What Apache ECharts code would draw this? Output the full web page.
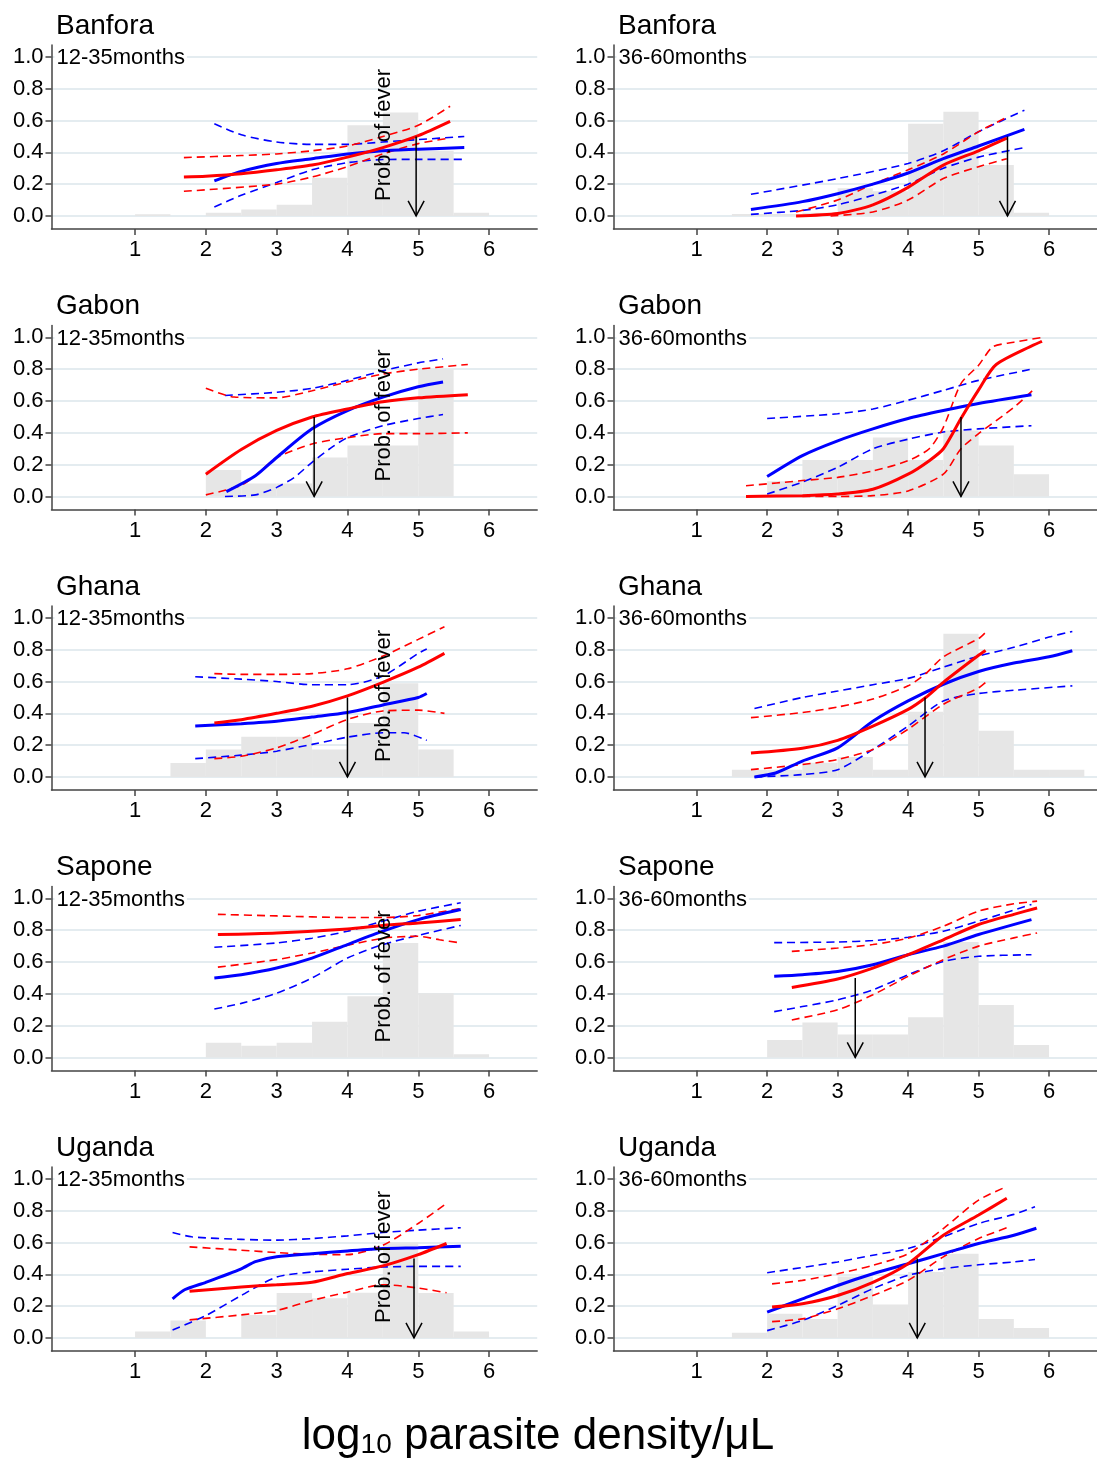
<!DOCTYPE html>
<html>
<head>
<meta charset="utf-8">
<script src="https://cdn.jsdelivr.net/npm/echarts@6/dist/echarts.min.js"></script>
<style>
html, body { margin: 0; background: #fff; }
#main { width: 1097px; height: 1459px; }
</style>
</head>
<body>
<div id="main"></div>
<script>
// panels, row by row: left = 12-35 months, right = 36-60 months
var sites = ['Banfora', 'Gabon', 'Ghana', 'Sapone', 'Uganda'];
var ageGroups = ['12-35months', '36-60months'];
var xTicks = [1, 2, 3, 4, 5, 6];
var yTicks = [0, 0.2, 0.4, 0.6, 0.8, 1.0];

// histogram bins are 0.5 log units wide, starting at these values
var binStarts = [1.0, 1.5, 2.0, 2.5, 3.0, 3.5, 4.0, 4.5, 5.0, 5.5, 6.0];
var histHeights = [
  [0.01, 0, 0.02, 0.04, 0.07, 0.24, 0.57, 0.65, 0.41, 0.02, 0],
  [0, 0.012, 0.012, 0.02, 0.175, 0.155, 0.58, 0.655, 0.32, 0.02, 0],
  [0, 0, 0.166, 0.082, 0.082, 0.245, 0.32, 0.32, 0.80, 0, 0],
  [0, 0, 0.095, 0.23, 0.23, 0.37, 0.23, 0.415, 0.32, 0.14, 0],
  [0, 0.088, 0.173, 0.253, 0.253, 0.173, 0.34, 0.59, 0.173, 0, 0],
  [0, 0.046, 0.046, 0.09, 0.125, 0.046, 0.41, 0.90, 0.29, 0.046, 0.046],
  [0, 0, 0.093, 0.074, 0.093, 0.225, 0.385, 0.72, 0.404, 0.02, 0],
  [0, 0, 0.11, 0.22, 0.145, 0.145, 0.253, 0.726, 0.33, 0.078, 0],
  [0.04, 0.11, 0, 0.145, 0.282, 0.25, 0.285, 0.60, 0.282, 0.04, 0],
  [0, 0.032, 0.152, 0.12, 0.387, 0.21, 0.415, 0.53, 0.12, 0.063, 0]
];

var redFit = [
  [[1.69,0.245],[2,0.25],[2.5,0.265],[3,0.29],[3.5,0.32],[4,0.37],[4.5,0.43],[5,0.505],[5.45,0.595]],
  [[2.41,0],[3,0.015],[3.5,0.07],[4,0.18],[4.5,0.32],[5,0.41],[5.4,0.49]],
  [[2,0.14],[2.5,0.295],[3,0.415],[3.5,0.5],[4,0.55],[4.5,0.595],[5,0.62],[5.7,0.64]],
  [[1.7,0],[2.5,0.005],[3,0.015],[3.5,0.045],[4,0.14],[4.3,0.225],[4.5,0.3],[4.75,0.49],[5,0.67],[5.25,0.83],[5.9,0.975]],
  [[2.12,0.34],[2.5,0.36],[3,0.4],[3.5,0.445],[4,0.51],[4.5,0.595],[5,0.69],[5.37,0.777]],
  [[1.77,0.15],[2.5,0.18],[3,0.23],[3.5,0.32],[4,0.425],[4.25,0.5],[4.5,0.595],[5,0.765],[5.1,0.795]],
  [[2.17,0.773],[3,0.783],[4,0.808],[4.5,0.83],[5,0.846],[5.6,0.867]],
  [[2.35,0.44],[3,0.493],[3.5,0.562],[4,0.646],[4.5,0.74],[5,0.836],[5.5,0.9],[5.83,0.94]],
  [[1.77,0.293],[2.5,0.32],[3,0.335],[3.5,0.35],[4,0.405],[4.5,0.453],[5,0.524],[5.4,0.594]],
  [[2.07,0.194],[2.5,0.215],[3,0.267],[3.5,0.35],[4,0.467],[4.5,0.646],[5,0.773],[5.4,0.878]]
];
var redHi = [
  [[1.69,0.367],[2.5,0.38],[3,0.39],[3.5,0.41],[4,0.44],[4.5,0.5],[5,0.57],[5.45,0.69]],
  [[2.41,0.025],[3,0.1],[3.5,0.2],[4,0.29],[4.5,0.39],[5,0.53],[5.4,0.62]],
  [[2,0.68],[2.4,0.625],[3,0.62],[3.5,0.665],[4,0.72],[4.5,0.77],[5,0.8],[5.7,0.83]],
  [[1.7,0.067],[2.5,0.1],[3,0.12],[3.5,0.16],[4,0.225],[4.3,0.3],[4.5,0.435],[4.75,0.71],[5,0.825],[5.2,0.94],[5.5,0.97],[5.9,1.0]],
  [[2.12,0.65],[2.5,0.645],[3,0.645],[3.5,0.65],[4,0.68],[4.5,0.76],[5,0.865],[5.37,0.945]],
  [[1.77,0.373],[2.5,0.405],[3,0.44],[3.5,0.49],[4,0.573],[4.25,0.65],[4.5,0.755],[5,0.87],[5.1,0.91]],
  [[2.17,0.9],[3,0.89],[4,0.88],[4.5,0.88],[5,0.893],[5.6,0.937]],
  [[2.35,0.667],[3,0.688],[3.5,0.71],[4,0.75],[4.5,0.825],[5,0.92],[5.5,0.966],[5.83,0.983]],
  [[1.77,0.573],[2.5,0.552],[3,0.537],[3.5,0.526],[4,0.524],[4.5,0.583],[5,0.72],[5.4,0.846]],
  [[2.07,0.34],[2.5,0.362],[3,0.404],[3.5,0.457],[4,0.53],[4.5,0.688],[5,0.867],[5.4,0.952]]
];
var redLo = [
  [[1.69,0.155],[3,0.2],[3.5,0.245],[4,0.31],[4.5,0.39],[5,0.455],[5.45,0.49]],
  [[2.9,0],[3.5,0.025],[4,0.1],[4.5,0.235],[5,0.31],[5.4,0.36]],
  [[2,0.01],[2.5,0.07],[2.75,0.15],[3,0.245],[3.5,0.33],[4,0.37],[4.5,0.395],[5,0.395],[5.7,0.4]],
  [[2.5,0],[3,0],[3.5,0.005],[4,0.035],[4.5,0.14],[4.75,0.3],[5,0.395],[5.5,0.56],[5.8,0.68]],
  [[2.12,0.115],[2.5,0.13],[3,0.183],[3.5,0.267],[4,0.362],[4.5,0.415],[5,0.42],[5.37,0.4]],
  [[1.77,0.046],[2.5,0.078],[3,0.11],[3.5,0.173],[4,0.3],[4.5,0.457],[5,0.56],[5.1,0.594]],
  [[2.17,0.568],[3,0.615],[3.5,0.657],[4,0.705],[4.5,0.75],[5,0.762],[5.3,0.74],[5.6,0.72]],
  [[2.35,0.236],[3,0.3],[3.5,0.394],[4,0.51],[4.5,0.615],[5,0.7],[5.5,0.752],[5.83,0.783]],
  [[1.77,0.114],[2.5,0.145],[3,0.173],[3.5,0.236],[4,0.288],[4.5,0.335],[5,0.314],[5.4,0.284]],
  [[2.07,0.103],[2.5,0.12],[3,0.183],[3.5,0.267],[4,0.362],[4.5,0.51],[5,0.625],[5.4,0.693]]
];

var blueFit = [
  [[2.12,0.22],[2.5,0.28],[3,0.33],[3.5,0.36],[4,0.39],[4.5,0.41],[5,0.42],[5.65,0.43]],
  [[1.77,0.04],[2.5,0.09],[3,0.14],[3.5,0.2],[4,0.27],[4.5,0.36],[5,0.44],[5.65,0.545]],
  [[2.29,0.03],[2.7,0.13],[3,0.245],[3.5,0.425],[4,0.54],[4.5,0.625],[5,0.69],[5.35,0.72]],
  [[2,0.125],[2.5,0.257],[3,0.35],[3.5,0.425],[4,0.49],[4.5,0.54],[5,0.585],[5.75,0.64]],
  [[1.85,0.32],[2.5,0.335],[3,0.35],[3.5,0.377],[4,0.405],[4.5,0.453],[5,0.5],[5.12,0.525]],
  [[1.82,0],[2.12,0.025],[2.5,0.1],[3,0.183],[3.5,0.35],[4,0.478],[4.5,0.583],[5,0.663],[5.5,0.716],[6,0.756],[6.33,0.794]],
  [[2.12,0.5],[2.5,0.52],[3,0.562],[3.5,0.625],[4,0.71],[4.5,0.794],[5,0.867],[5.6,0.93]],
  [[2.1,0.51],[2.5,0.52],[3,0.54],[3.5,0.583],[4,0.646],[4.5,0.7],[5,0.773],[5.75,0.867]],
  [[1.53,0.246],[1.7,0.303],[2,0.35],[2.5,0.435],[2.7,0.48],[3,0.51],[3.5,0.53],[4,0.547],[4.5,0.562],[5,0.568],[5.6,0.577]],
  [[2,0.162],[2.5,0.246],[3,0.33],[3.5,0.404],[4,0.467],[4.5,0.53],[5,0.594],[5.5,0.646],[5.82,0.69]]
];
var blueHi = [
  [[2.12,0.58],[2.5,0.51],[3,0.465],[3.5,0.45],[4,0.45],[4.5,0.465],[5,0.48],[5.65,0.5]],
  [[1.77,0.136],[3,0.235],[4,0.33],[4.5,0.41],[5,0.53],[5.65,0.665]],
  [[2.27,0.635],[3,0.655],[3.5,0.68],[4,0.73],[4.5,0.79],[5,0.84],[5.35,0.865]],
  [[2,0.49],[3,0.52],[3.5,0.55],[4,0.605],[4.5,0.667],[5,0.73],[5.75,0.8]],
  [[1.85,0.63],[2.5,0.615],[3,0.6],[3.5,0.58],[4,0.58],[4.5,0.635],[5,0.777],[5.12,0.805]],
  [[1.82,0.43],[2.5,0.5],[3,0.54],[3.5,0.58],[4,0.62],[4.5,0.69],[5,0.76],[5.5,0.815],[6,0.88],[6.33,0.915]],
  [[2.12,0.693],[3,0.72],[3.5,0.75],[4,0.794],[4.5,0.857],[5,0.92],[5.6,0.973]],
  [[2.1,0.722],[3,0.726],[3.5,0.735],[4,0.756],[4.5,0.794],[5,0.857],[5.75,0.962]],
  [[1.53,0.663],[1.8,0.636],[2.5,0.62],[3,0.615],[3.5,0.625],[4,0.642],[4.5,0.663],[5,0.678],[5.6,0.693]],
  [[2,0.41],[3,0.478],[3.5,0.52],[4,0.562],[4.5,0.636],[5,0.72],[5.5,0.777],[5.8,0.825]]
];
var blueLo = [
  [[2.12,0.057],[2.5,0.13],[3,0.21],[3.5,0.29],[4,0.335],[4.5,0.355],[5,0.356],[5.65,0.356]],
  [[1.77,0.01],[2.5,0.035],[3,0.07],[3.5,0.13],[4,0.2],[4.5,0.3],[5,0.37],[5.65,0.43]],
  [[2.27,0],[2.7,0.01],[3,0.057],[3.25,0.12],[3.5,0.215],[3.75,0.3],[4,0.37],[4.5,0.445],[5,0.49],[5.35,0.515]],
  [[2,0.015],[2.5,0.09],[3,0.183],[3.5,0.3],[4,0.36],[4.5,0.405],[5,0.425],[5.75,0.445]],
  [[1.85,0.115],[2.5,0.137],[3,0.162],[3.5,0.205],[4,0.25],[4.5,0.278],[4.8,0.278],[5.12,0.23]],
  [[1.82,0],[2.5,0.015],[3,0.046],[3.5,0.173],[4,0.32],[4.5,0.478],[5,0.525],[5.5,0.545],[6.33,0.573]],
  [[2.12,0.305],[2.5,0.34],[3,0.404],[3.5,0.5],[4,0.625],[4.5,0.71],[5,0.768],[5.6,0.83]],
  [[2.1,0.288],[2.5,0.32],[3,0.362],[3.5,0.425],[4,0.52],[4.5,0.604],[5,0.636],[5.75,0.646]],
  [[1.53,0.05],[2,0.141],[2.5,0.267],[3,0.383],[3.5,0.415],[4,0.432],[4.5,0.446],[5,0.45],[5.6,0.45]],
  [[2,0.046],[2.5,0.11],[3,0.204],[3.5,0.31],[4,0.394],[4.5,0.436],[5,0.46],[5.5,0.478],[5.8,0.493]]
];

// density where the red curve reaches 0.5 (null = no arrow)
var arrowX = [4.97, 5.41, 3.53, 4.75, 4.0, 4.24, null, 3.25, 4.94, 4.13];
var arrowTop = 0.5;

var FONT = '"Liberation Sans", Arial, Helvetica, sans-serif';
var RED = '#ff0000', BLUE = '#0000ff';

var myChart = echarts.init(document.getElementById('main'));

function histItem(params, api) {
  var p0 = api.coord([api.value(0), 0]);
  var p1 = api.coord([api.value(1), api.value(2)]);
  return {
    type: 'rect',
    shape: { x: p0[0], y: p1[1], width: p1[0] - p0[0], height: p0[1] - p1[1] },
    style: { fill: '#e6e6e6' }
  };
}

function arrowItem(params, api) {
  var top = api.coord([api.value(0), api.value(1)]);
  var tip = api.coord([api.value(0), 0]);
  var st = { stroke: '#000', lineWidth: 1.5, fill: null };
  return {
    type: 'group',
    children: [
      { type: 'line', shape: { x1: top[0], y1: top[1], x2: tip[0], y2: tip[1] }, style: st },
      { type: 'polyline', shape: { points: [[tip[0] - 8, tip[1] - 15], [tip[0], tip[1]], [tip[0] + 8, tip[1] - 15]] }, style: st }
    ]
  };
}

function curve(i, data, color, dashed) {
  return {
    type: 'line',
    xAxisIndex: i,
    yAxisIndex: i,
    data: data,
    symbol: 'none',
    smooth: 0.25,
    silent: true,
    z: dashed ? 3 : 4,
    lineStyle: { color: color, width: dashed ? 1.6 : 3, type: dashed ? [8, 5] : 'solid' }
  };
}

var grids = [], xAxes = [], yAxes = [], titles = [], series = [], graphics = [];

for (var i = 0; i < 10; i++) {
  var row = Math.floor(i / 2), col = i % 2;
  var gLeft = col === 0 ? 51.5 : 613.5;
  var gTop = 45 + row * 280.5;

  grids.push({ left: gLeft, top: gTop, width: 485.7, height: 184 });

  xAxes.push({
    gridIndex: i, type: 'value', min: -0.18, max: 6.68,
    axisLine: { onZero: false, lineStyle: { color: '#444', width: 1.5 } },
    axisTick: { customValues: xTicks, length: 6, lineStyle: { color: '#444', width: 1.5 } },
    axisLabel: { customValues: xTicks, color: '#000', fontSize: 22, fontFamily: FONT, margin: 10 },
    splitLine: { show: false }
  });

  yAxes.push({
    gridIndex: i, type: 'value', min: -0.082, max: 1.075,
    axisLine: { show: true, onZero: false, lineStyle: { color: '#444', width: 1.5 } },
    axisTick: { show: true, customValues: yTicks, length: 6, lineStyle: { color: '#444', width: 1.5 } },
    axisLabel: {
      customValues: yTicks, color: '#000', fontSize: 22, fontFamily: FONT, margin: 8,
      formatter: function (v) { return v.toFixed(1); }
    },
    splitLine: { show: true, lineStyle: { color: '#e4ecf0', width: 2 } }
  });

  titles.push({
    text: sites[row], left: gLeft + 4.5, top: 12 + row * 280.5, padding: 0,
    textStyle: { fontSize: 28, fontWeight: 'normal', color: '#000', fontFamily: FONT }
  });
  titles.push({
    text: ageGroups[col], left: gLeft + 3, top: 47 + row * 280.5, padding: [0, 2, 0, 2],
    backgroundColor: '#fff',
    textStyle: { fontSize: 22, fontWeight: 'normal', color: '#000', fontFamily: FONT }
  });

  series.push({
    type: 'custom',
    xAxisIndex: i, yAxisIndex: i,
    renderItem: histItem,
    silent: true,
    z: 1,
    encode: { x: [0, 1], y: 2 },
    data: binStarts.map(function (b, j) {
      return [b, b + 0.5, histHeights[i][j]];
    }).filter(function (d) { return d[2] > 0; })
  });

  series.push(curve(i, blueHi[i], BLUE, true));
  series.push(curve(i, blueLo[i], BLUE, true));
  series.push(curve(i, redHi[i], RED, true));
  series.push(curve(i, redLo[i], RED, true));
  series.push(curve(i, blueFit[i], BLUE, false));
  series.push(curve(i, redFit[i], RED, false));

  if (arrowX[i] !== null) {
    series.push({
      type: 'custom',
      xAxisIndex: i, yAxisIndex: i,
      renderItem: arrowItem,
      silent: true,
      z: 5,
      data: [[arrowX[i], arrowTop]]
    });
  }

  if (col === 0) {
    graphics.push({
      type: 'text',
      x: 384, y: 135 + row * 280.5,
      rotation: Math.PI / 2,
      z: 10,
      style: {
        text: 'Prob. of fever', fontSize: 22, fontFamily: FONT, fill: '#000',
        align: 'center', verticalAlign: 'middle'
      }
    });
  }
}

graphics.push({
  type: 'text',
  x: 538, y: 1437,
  style: {
    text: '{a|log}{s|10}{a| parasite density/μL}',
    align: 'center', verticalAlign: 'middle',
    fill: '#000',
    rich: {
      a: { fontSize: 44, fontFamily: FONT, fill: '#000', verticalAlign: 'bottom' },
      s: { fontSize: 28, fontFamily: FONT, fill: '#000', verticalAlign: 'bottom' }
    }
  }
});

var option = {
  backgroundColor: '#fff',
  animation: false,
  title: titles,
  grid: grids,
  xAxis: xAxes,
  yAxis: yAxes,
  series: series,
  graphic: graphics
};

myChart.setOption(option);
</script>
</body>
</html>
